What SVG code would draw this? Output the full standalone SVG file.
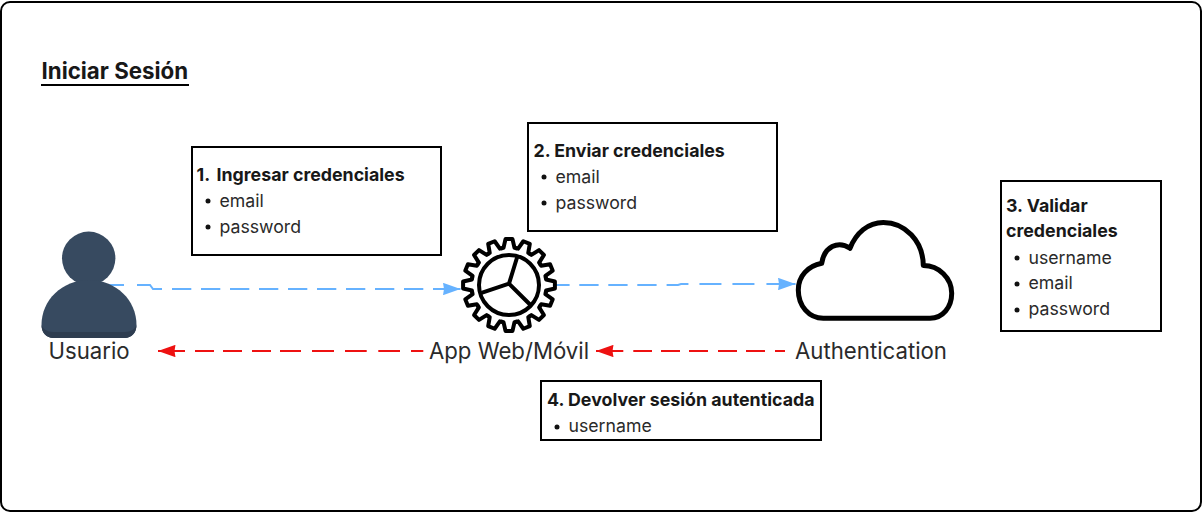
<svg xmlns="http://www.w3.org/2000/svg" width="1203" height="513" viewBox="0 0 1203 513">
<style>
text{font-family:Inter,"Liberation Sans",sans-serif;fill:#2a2a2a}
.b{font-size:17.8px;font-weight:700;fill:#181818}
.t{font-size:17.7px}
.l{font-size:22.2px}
.h{font-size:22.3px;font-weight:700;fill:#181818}
.box{fill:#fff;stroke:#000;stroke-width:2}
.blue{fill:none;stroke:#66b2ff;stroke-width:2}
.red{fill:none;stroke:#ee1111;stroke-width:2}
</style>
<defs>
<marker id="ab" markerUnits="userSpaceOnUse" markerWidth="18" markerHeight="12.400" refX="17.500" refY="6.200" orient="auto"><path d="M0 0L17.500 6.200L0 12.400L1 6.200Z" fill="#66b2ff"/></marker>
<marker id="ar" markerUnits="userSpaceOnUse" markerWidth="18" markerHeight="12.400" refX="17.500" refY="6.200" orient="auto"><path d="M0 0L17.500 6.200L0 12.400L1 6.200Z" fill="#ee1111"/></marker>
<path id="tooth" d="M-7.300-36.800L-5.500-37.100L-3.500-45.900L3.500-45.900L5.500-37.100L7.300-36.800" fill="none" stroke="#000" stroke-width="4" stroke-linejoin="round" stroke-linecap="round"/>
</defs>
<rect x="1" y="2" width="1200" height="509" rx="9" fill="#fff" stroke="#000" stroke-width="2"/>
<g id="title"><text class="h" x="41.500" y="79">Iniciar Sesión</text><rect x="41" y="84" width="148" height="2" fill="#000"/></g>
<g id="connectors">
<path class="blue" stroke-dasharray="20 13 27 10 19.300 9.700 19.300 9.700 19.300 9.700 19.300 9.700 19.300 9.700 19.300 9.700 19.300 9.700 19.300 9.700 19.300 9.700 40 10" marker-end="url(#ab)" d="M104 285H150L153 289H460.500"/>
<path class="blue" stroke-dasharray="19.300 9.700 19.300 9.700 19.300 9.700 19.300 10 22 11 22 11 22 12 40" marker-end="url(#ab)" d="M550.300 285H678L681 284H795.500"/>
<path class="red" stroke-dasharray="12.300 11 21.700 11.600 21.700 11 22 11 21 9 19 10 19 9 19 10 40" marker-end="url(#ar)" d="M423.300 351H158"/>
<path class="red" stroke-dasharray="10 10 19 9 19 10 19 9 19 9 18.700 10 40" marker-end="url(#ar)" d="M785 351H596"/>
</g>
<g id="usuario">
<circle cx="88.700" cy="258.300" r="26.700" fill="#374a60"/>
<path d="M41.500 325C41.500 300 62 280 89 280S136.500 300 136.500 325C136.500 333 131 338 125 338H53C47 338 41.500 333 41.500 325Z" fill="#374a60"/>
<path d="M41.500 325C43 329 47 332 53 332H125C131 332 135 329 136.500 325C136.500 333 131 338 125 338H53C47 338 41.500 333 41.500 325Z" fill="#2e3d50"/>
<text class="l" x="89" y="359" text-anchor="middle">Usuario</text>
</g>
<g id="app">
<g transform="translate(509 285)">
<circle r="46" fill="#fff"/>
<use href="#tooth"/><use href="#tooth" transform="rotate(22.500)"/><use href="#tooth" transform="rotate(45)"/><use href="#tooth" transform="rotate(67.500)"/><use href="#tooth" transform="rotate(90)"/><use href="#tooth" transform="rotate(112.500)"/><use href="#tooth" transform="rotate(135)"/><use href="#tooth" transform="rotate(157.500)"/><use href="#tooth" transform="rotate(180)"/><use href="#tooth" transform="rotate(202.500)"/><use href="#tooth" transform="rotate(225)"/><use href="#tooth" transform="rotate(247.500)"/><use href="#tooth" transform="rotate(270)"/><use href="#tooth" transform="rotate(292.500)"/><use href="#tooth" transform="rotate(315)"/><use href="#tooth" transform="rotate(337.500)"/>
<circle r="30" fill="none" stroke="#000" stroke-width="4"/>
<path d="M8.200-28L0-1.300L-27.500 7.800M0-1.300L22.500 21" fill="none" stroke="#000" stroke-width="4" stroke-linejoin="round"/>
</g>
<text class="l" x="509" y="359" text-anchor="middle">App Web/Móvil</text>
</g>
<g id="authentication">
<path d="M823.300 318.300H930C943 318.300 951.700 307 951.700 293.300C951.700 278 939 265.500 923.300 265.500C923 241 905 222.500 883.300 222.500C868 222.500 856 233 850 248.300C838 240 824 247 821.700 263.300C808 266 798.300 276 798.300 290C798.300 306 809 318.300 823.300 318.300Z" fill="#fff" stroke="#000" stroke-width="5" stroke-linejoin="round"/>
<text class="l" x="871" y="359" text-anchor="middle">Authentication</text>
</g>
<g id="step1">
<rect class="box" x="192" y="147" width="249" height="108"/>
<text class="b" x="196.500" y="181">1.</text><text class="b" x="216.500" y="181">Ingresar credenciales</text>
<circle cx="208" cy="201" r="2.500" fill="#111"/><text class="t" x="219.500" y="207">email</text>
<circle cx="208" cy="227" r="2.500" fill="#111"/><text class="t" x="219.500" y="233">password</text>
</g>
<g id="step2">
<rect class="box" x="528" y="123" width="249" height="108"/>
<text class="b" x="533.500" y="157">2. Enviar credenciales</text>
<circle cx="544" cy="177" r="2.500" fill="#111"/><text class="t" x="555.500" y="183">email</text>
<circle cx="544" cy="203" r="2.500" fill="#111"/><text class="t" x="555.500" y="209">password</text>
</g>
<g id="step3">
<rect class="box" x="1001" y="181" width="160" height="150"/>
<text class="b" x="1006" y="212">3. Validar</text>
<text class="b" x="1006" y="237">credenciales</text>
<circle cx="1017" cy="258" r="2.500" fill="#111"/><text class="t" x="1028.500" y="264">username</text>
<circle cx="1017" cy="284" r="2.500" fill="#111"/><text class="t" x="1028.500" y="289">email</text>
<circle cx="1017" cy="310" r="2.500" fill="#111"/><text class="t" x="1028.500" y="315">password</text>
</g>
<g id="step4">
<rect class="box" x="541" y="381" width="280" height="59"/>
<text class="b" x="547" y="406">4. Devolver sesión autenticada</text>
<circle cx="557" cy="427" r="2.500" fill="#111"/><text class="t" x="568.500" y="432">username</text>
</g>
</svg>
